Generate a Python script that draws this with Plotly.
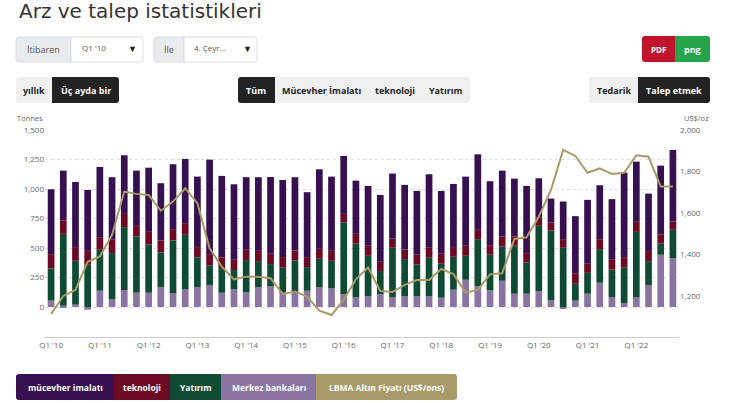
import plotly.graph_objects as go

years = ["10", "11", "12", "13", "14", "15", "16", "17", "18", "19", "20", "21", "22"]
quarters = [f"Q{q} '{y}" for y in years for q in range(1, 5)]
tick_labels = [f"Q1 '{y}" for y in years]

jewellery = [550, 423, 552, 516, 595, 530, 497, 468, 544, 485, 550, 544, 597, 801, 691, 640,
             615, 624, 651, 654, 621, 550, 674, 629, 491, 451, 507, 567, 550, 547, 541, 623,
             533, 535, 586, 640, 547, 558, 490, 569, 335, 203, 319, 488, 541, 457, 514, 716,
             510, 487, 583, 606]
technology = [121, 113, 116, 118, 107, 113, 112, 90, 107, 102, 96, 99, 88, 96, 90, 87,
              87, 87, 87, 90, 84, 85, 84, 84, 73, 84, 85, 78, 79, 82, 82, 85,
              84, 82, 85, 79, 76, 85, 79, 79, 68, 68, 73, 85, 77, 84, 84, 90,
              85, 85, 76, 71]
investment = [273, 609, 372, 358, 347, 389, 533, 477, 409, 293, 448, 460, 251, 169, 209, 164,
              274, 220, 189, 206, 279, 200, 240, 234, 609, 454, 344, 195, 417, 316, 271, 327,
              288, 279, 203, 400, 302, 290, 406, 265, 553, 589, 502, 143, 177, 285, 231, 299,
              552, 203, 96, 240]
central_banks = [54, 11, 20, -23, 138, 68, 144, 121, 121, 169, 116, 152, 169, 183, 121, 149,
                 124, 169, 175, 127, 116, 138, 169, 158, 107, 82, 90, 110, 85, 90, 90, 90,
                 79, 147, 231, 175, 141, 223, 113, 113, 135, 59, -11, 54, 113, 206, 85, 34,
                 85, 186, 443, 414]
gold_price = [1113, 1200, 1229, 1365, 1390, 1494, 1703, 1692, 1687, 1611, 1655, 1719, 1647, 1430, 1341, 1280,
              1293, 1293, 1285, 1210, 1221, 1197, 1129, 1108, 1181, 1280, 1337, 1224, 1219, 1253, 1277, 1277,
              1330, 1306, 1216, 1229, 1304, 1309, 1475, 1483, 1582, 1711, 1904, 1875, 1794, 1815, 1788, 1794,
              1878, 1871, 1727, 1727]

C_JEW = "#361050"
C_TECH = "#6b0a22"
C_INV = "#0f4a33"
C_CB = "#8a74a2"
C_GOLD = "#a99a6a"
FONT = "Open Sans, Lato, sans-serif"
TITLE_FONT = "DejaVu Sans, sans-serif"

W, H = 730, 403
L, R, T, B = 45, 679, 130, 337


def px(x):
    return (x - L) / (R - L)


def py(y):
    return (B - y) / (B - T)


fig = go.Figure()
for name, vals, col in [("Merkez bankaları", central_banks, C_CB),
                        ("Yatırım", investment, C_INV),
                        ("teknoloji", technology, C_TECH),
                        ("mücevher imalatı", jewellery, C_JEW)]:
    fig.add_trace(go.Bar(x=quarters, y=vals, name=name, marker=dict(color=col, line=dict(width=0))))
fig.add_trace(go.Scatter(x=quarters, y=gold_price, name="LBMA Altın Fiyatı (US$/ons)", yaxis="y2",
                         mode="lines", line=dict(color=C_GOLD, width=2)))

shapes = []
annotations = []


def rect(x0, y0, x1, y1, fill, line=None, rl=0, rr=0):
    """Rectangle in page pixels, optional rounded left / right corners."""
    def P(x, y):
        return f"{px(x):.5f},{py(y):.5f}"
    d = (f"M{P(x0 + rl, y0)} L{P(x1 - rr, y0)} Q{P(x1, y0)} {P(x1, y0 + rr)} "
         f"L{P(x1, y1 - rr)} Q{P(x1, y1)} {P(x1 - rr, y1)} L{P(x0 + rl, y1)} "
         f"Q{P(x0, y1)} {P(x0, y1 - rl)} L{P(x0, y0 + rl)} Q{P(x0, y0)} {P(x0 + rl, y0)} Z")
    shapes.append(dict(type="path", xref="paper", yref="paper", path=d,
                       fillcolor=fill, line=dict(width=1 if line else 0, color=line or fill), layer="below"))


def text(x, y, s, size=9, color="#333", bold=False, anchor="center", family=FONT):
    annotations.append(dict(xref="paper", yref="paper", x=px(x), y=py(y), text=f"<b>{s}</b>" if bold else s,
                            showarrow=False, xanchor=anchor, yanchor="middle",
                            font=dict(family=family, size=size, color=color)))


# title
text(17, 11, "Arz ve talep istatistikleri", size=20, color="#333", anchor="left", family=TITLE_FONT)

# row 1 controls
rect(16, 37, 71, 62, "#e9ecef", "#d9dde1", rl=3)
text(43, 49, "İtibaren", 9, "#555")
rect(71, 37, 143, 62, "#ffffff", "#d9dde1", rr=3)
text(80, 47, "Q1 '10", 8, "#555", anchor="left")
text(132, 48, "▼", 9, "#222")
rect(154, 37, 184, 62, "#e9ecef", "#d9dde1", rl=3)
text(169, 49, "İle", 9, "#555")
rect(184, 37, 257, 62, "#ffffff", "#d9dde1", rr=3)
text(192, 47, "4. Çeyr...", 8, "#555", anchor="left")
text(247, 48, "▼", 9, "#222")
rect(642, 36, 675, 62, "#c0142c", rl=3)
text(658, 49, "PDF", 8, "#ffffff", bold=True)
rect(675, 36, 710, 62, "#28a44a", rr=3)
text(692, 49, "png", 9, "#ffffff", bold=True)

# row 2 toggles
rect(16, 77, 55, 103, "#f0f0f0", rl=3)
text(34, 90, "yıllık", 9, "#222", bold=True)
rect(52, 77, 119, 103, "#222222", rr=3)
text(86, 90, "Üç ayda bir", 9, "#ffffff", bold=True)
rect(272, 77, 470, 103, "#f0f0f0", rr=3)
rect(238, 77, 275, 103, "#222222", rl=3)
text(256, 90, "Tüm", 9, "#ffffff", bold=True)
text(321, 90, "Mücevher İmalatı", 9, "#222", bold=True)
text(395, 90, "teknoloji", 9, "#222", bold=True)
text(446, 90, "Yatırım", 9, "#222", bold=True)
rect(589, 77, 641, 103, "#f0f0f0", rl=3)
text(614, 90, "Tedarik", 9, "#222", bold=True)
rect(638, 77, 710, 103, "#222222", rr=3)
text(674, 90, "Talep etmek", 9, "#ffffff", bold=True)

# axis titles
text(30, 118, "Tonnes", 7.5, "#666")
text(696, 118, "US$/oz", 7.5, "#666")

# legend
legend_items = [(16, 114, C_JEW, "mücevher imalatı"), (114, 170, C_TECH, "teknoloji"),
                (170, 221, C_INV, "Yatırım"), (221, 316, C_CB, "Merkez bankaları"),
                (316, 457, C_GOLD, "LBMA Altın Fiyatı (US$/ons)")]
for i, (x0, x1, col, lab) in enumerate(legend_items):
    rect(x0, 374, x1 + (1 if i < 4 else 0), 400, col,
         rl=3 if i == 0 else 0, rr=3 if i == len(legend_items) - 1 else 0)
    text((x0 + x1) / 2, 387, lab, 8.5, "#ffffff", bold=True)

fig.update_layout(
    width=W, height=H,
    margin=dict(l=L, r=W - R, t=T, b=H - B, pad=0),
    paper_bgcolor="#ffffff", plot_bgcolor="#ffffff",
    barmode="relative", bargap=0.45,
    showlegend=False,
    font=dict(family=FONT, size=8, color="#666"),
    xaxis=dict(type="category", categoryorder="array", categoryarray=quarters,
               tickvals=tick_labels, ticktext=tick_labels, range=[-0.5, 51.5],
               showline=True, linecolor="#cccccc", linewidth=1, ticks="", showgrid=False,
               tickfont=dict(size=8, color="#666")),
    yaxis=dict(range=[-254, 1500], tickvals=[0, 250, 500, 750, 1000, 1250, 1500], tickformat=",",
               showgrid=True, gridcolor="#dddddd", griddash="dot", zeroline=False, ticks="",
               tickfont=dict(size=8, color="#666"), fixedrange=True),
    yaxis2=dict(range=[1002, 2000], overlaying="y", side="right",
                tickvals=[1200, 1400, 1600, 1800, 2000], tickformat=",", showgrid=False,
                zeroline=False, ticks="", tickfont=dict(size=8, color="#666")),
    shapes=shapes, annotations=annotations,
)

fig.write_html("out.html", config={"displayModeBar": False},
               post_script="document.body.style.margin='0px';document.body.style.overflow='hidden';")
